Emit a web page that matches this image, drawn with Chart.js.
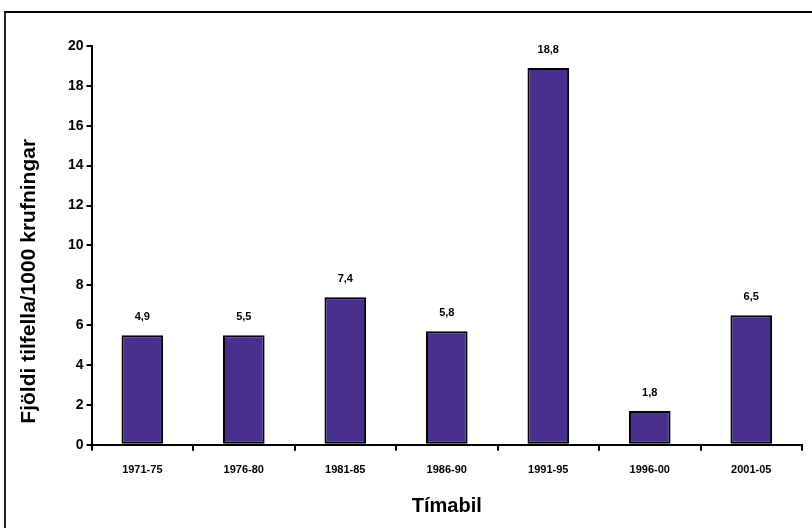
<!DOCTYPE html>
<html>
<head>
<meta charset="utf-8">
<script src="https://cdn.jsdelivr.net/npm/chart.js@4.4.1/dist/chart.umd.min.js"></script>
<style>
  html, body { margin: 0; padding: 0; background: #fff; }
  #wrap { position: relative; width: 812px; height: 528px; }
  #frame { position: absolute; left: 4px; top: 11px; right: 0; bottom: 0;
           border-top: 2px solid #000; border-left: 2px solid #222; }
  canvas { position: absolute; left: 0; top: 0; }
</style>
</head>
<body>
<div id="wrap">
  <div id="frame"></div>
  <canvas id="chart" width="812" height="528"></canvas>
</div>
<script>
var categories = ['1971-75', '1976-80', '1981-85', '1986-90', '1991-95', '1996-00', '2001-05'];
var barValues = [5.5, 5.5, 7.4, 5.7, 18.9, 1.7, 6.5];
var valueLabels = ['4,9', '5,5', '7,4', '5,8', '18,8', '1,8', '6,5'];
var yTicks = [0, 2, 4, 6, 8, 10, 12, 14, 16, 18, 20];
var yTitle = 'Fjöldi tilfella/1000 krufningar';
var xTitle = 'Tímabil';

var FONT = "'Liberation Sans', Arial, Helvetica, sans-serif";

var chart = new Chart(document.getElementById('chart'), {
    type: 'bar',
    data: {
        labels: categories,
        datasets: [{
            data: barValues,
            backgroundColor: '#4a2f8e',
            borderColor: '#000',
            borderWidth: 2,
            borderSkipped: false,
            barPercentage: 0.41,
            categoryPercentage: 1.0
        }]
    },
    options: {
        animation: false,
        responsive: false,
        layout: { padding: { left: 65, right: 10, top: 46, bottom: 0 } },
        plugins: {
            legend: { display: false },
            tooltip: { enabled: false }
        },
        scales: {
            x: {
                grid: { display: true, drawOnChartArea: false, drawTicks: true, tickLength: 6, color: '#000', lineWidth: 2 },
                border: { display: true, color: '#000', width: 2 },
                ticks: { color: '#000', font: { family: FONT, size: 11, weight: 'bold' }, padding: 13 },
                title: { display: true, text: xTitle, color: '#000', font: { family: FONT, size: 20, weight: 'bold' }, padding: { top: 4, bottom: 10 } }
            },
            y: {
                min: 0,
                max: 20,
                afterBuildTicks: function(axis) {
                    axis.ticks = yTicks.map(function(v) { return { value: v }; });
                },
                grid: { display: true, drawOnChartArea: false, drawTicks: true, tickLength: 5, color: '#000', lineWidth: 2 },
                border: { display: true, color: '#000', width: 2 },
                ticks: { color: '#000', font: { family: FONT, size: 14, weight: 'bold' }, padding: 3 }
            }
        }
    },
    plugins: [{
        id: 'extras',
        afterDatasetsDraw: function(chart) {
            var ctx = chart.ctx;
            var meta = chart.getDatasetMeta(0);
            ctx.save();
            ctx.fillStyle = '#000';
            ctx.font = 'bold 11px ' + FONT;
            ctx.textAlign = 'center';
            ctx.textBaseline = 'middle';
            meta.data.forEach(function(bar, i) {
                ctx.fillText(valueLabels[i], bar.x, bar.y - 18);
            });
            // vertical axis title, sits a bit below the plot centre
            var area = chart.chartArea;
            ctx.translate(29, area.top + (area.bottom - area.top) * 0.59);
            ctx.rotate(-Math.PI / 2);
            ctx.font = 'bold 21px ' + FONT;
            ctx.fillText(yTitle, 0, 0);
            ctx.restore();
        }
    }]
});
</script>
</body>
</html>
